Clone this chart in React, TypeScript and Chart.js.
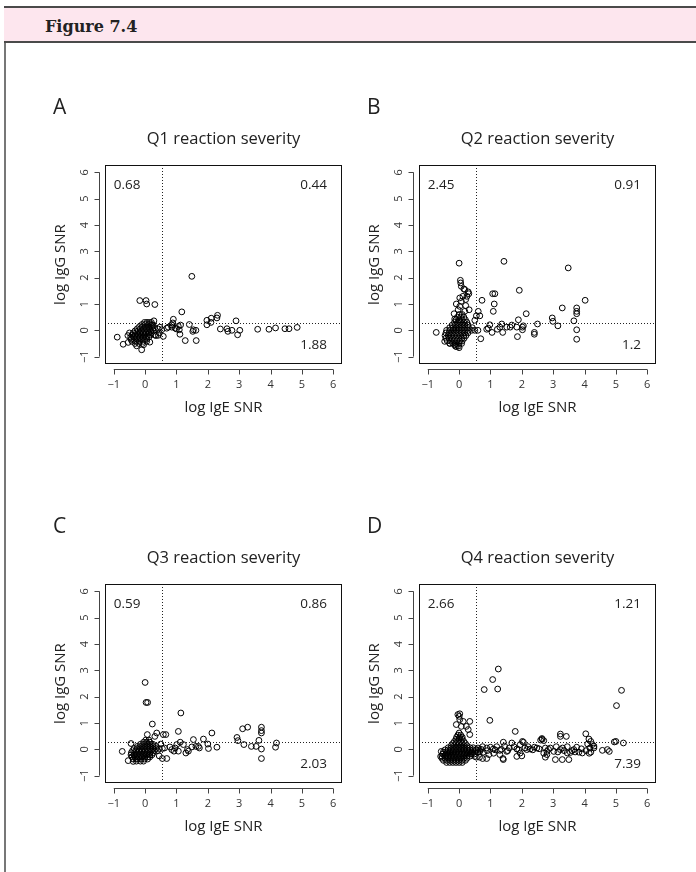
import React, { useEffect, useRef } from 'react';
import { Chart, registerables } from 'chart.js';

Chart.register(...registerables);

// ---------- axis / annotation data ----------
const axisTicks = [-1, 0, 1, 2, 3, 4, 5, 6];
const tickLabels = ['\u22121', '0', '1', '2', '3', '4', '5', '6'];
const axisMin = -1.28;
const axisMax = 6.28;
const cutIgE = 0.54;
const cutIgG = 0.27;
const xTitle = 'log IgE SNR';
const yTitle = 'log IgG SNR';
const panelLetters = ['A', 'B', 'C', 'D'];
const panelTitles = ['Q1 reaction severity', 'Q2 reaction severity', 'Q3 reaction severity', 'Q4 reaction severity'];
const quadrantTopLeft = ['0.68', '2.45', '0.59', '2.66'];
const quadrantTopRight = ['0.44', '0.91', '0.86', '1.21'];
const quadrantBottomRight = ['1.88', '1.2', '2.03', '7.39'];

// ---------- point data [log IgE SNR, log IgG SNR] ----------
const q1Points: [number, number][] = [
  [1.49, 2.05], [-0.17, 1.13], [0.03, 1.13], [0.05, 1.0], [0.31, 0.98], [1.17, 0.7],
  [0.9, 0.42], [0.88, 0.28], [0.85, 0.2], [1.41, 0.22],
  [1.97, 0.38], [1.97, 0.21], [2.11, 0.46], [2.1, 0.3], [2.31, 0.57], [2.29, 0.47], [2.9, 0.36],
  [2.4, 0.05], [2.61, 0.06], [2.64, -0.04], [2.77, 0], [2.95, -0.17], [3.02, 0], [3.59, 0.04],
  [3.95, 0.04], [4.16, 0.09], [4.46, 0.06], [4.59, 0.06], [4.85, 0.11],
  [1.0, 0.05], [1.09, 0.02], [1.11, -0.15], [1.06, 0.15], [1.13, 0.2], [0.69, 0.08], [0.74, 0.12],
  [0.85, 0.12], [0.96, 0.08], [1.52, -0.04], [1.54, 0.02], [1.62, 0], [1.28, -0.39], [1.63, -0.39],
  [0.58, -0.23], [0.42, -0.19], [0.53, 0.02], [0.47, 0.12],
  [-0.89, -0.26], [-0.7, -0.53], [-0.54, -0.46], [-0.11, -0.74], [-0.27, -0.59],
  [-0.32, -0.5], [-0.2, -0.5], [-0.08, -0.5],
  [-0.42, -0.42], [-0.3, -0.42], [-0.18, -0.42], [-0.06, -0.42], [0.05, -0.42],
  [-0.45, -0.34], [-0.35, -0.34], [-0.25, -0.34], [-0.15, -0.34], [-0.05, -0.34], [0.05, -0.34],
  [-0.46, -0.26], [-0.36, -0.26], [-0.26, -0.26], [-0.16, -0.26], [-0.06, -0.26], [0.04, -0.26], [0.12, -0.26],
  [-0.42, -0.18], [-0.32, -0.18], [-0.22, -0.18], [-0.12, -0.18], [-0.02, -0.18], [0.08, -0.18], [0.16, -0.18],
  [-0.38, -0.1], [-0.28, -0.1], [-0.18, -0.1], [-0.08, -0.1], [0.02, -0.1], [0.12, -0.1], [0.2, -0.1],
  [-0.32, -0.02], [-0.22, -0.02], [-0.12, -0.02], [-0.02, -0.02], [0.08, -0.02], [0.18, -0.02], [0.26, -0.02],
  [-0.25, 0.06], [-0.15, 0.06], [-0.05, 0.06], [0.05, 0.06], [0.15, 0.06], [0.24, 0.06],
  [-0.18, 0.14], [-0.08, 0.14], [0.02, 0.14], [0.12, 0.14], [0.22, 0.14],
  [-0.1, 0.22], [0, 0.22], [0.1, 0.22], [0.2, 0.22],
  [-0.02, 0.3], [0.06, 0.3], [0.14, 0.3],
  [0.28, 0.36], [0.35, -0.2], [0.3, -0.18], [0.42, 0.05], [0.45, -0.1], [-0.5, -0.1], [-0.55, -0.2],
  [0.15, -0.45], [-0.05, -0.55], [0.2, 0.3], [0.25, 0.2], [0.3, 0.1],
];

const q2Points: [number, number][] = [
  [0.0, 2.55], [1.43, 2.62], [3.48, 2.37], [1.92, 1.52], [4.02, 1.14], [3.29, 0.85],
  [3.75, 0.85], [3.75, 0.72], [3.75, 0.63], [3.66, 0.36], [3.75, 0.02], [3.75, -0.34],
  [1.07, 1.39], [1.14, 1.39], [1.12, 1.0], [1.09, 0.72], [0.73, 1.14], [2.14, 0.63],
  [2.97, 0.47], [2.99, 0.34], [3.15, 0.17], [2.5, 0.24],
  [1.89, 0.4], [1.84, 0.12], [2.02, 0.12], [2.02, 0.02], [2.05, 0.17], [1.86, -0.24], [2.4, -0.08],
  [2.4, -0.15], [1.63, 0.12], [1.68, 0.2], [1.36, 0.24], [1.39, -0.08], [1.3, 0.12], [1.22, 0.04],
  [1.05, -0.08], [0.98, 0.21], [0.93, 0.08], [0.88, 0.04], [1.52, 0.12],
  [0.69, -0.32], [0.61, 0.72], [0.66, 0.55], [0.55, 0.55], [0.5, 0.38], [-0.73, -0.08],
  [0.04, 1.9], [0.05, 1.8], [0.07, 1.67], [0.15, 1.57], [0.18, 1.55], [0.29, 1.46], [0.31, 1.39],
  [0.25, 1.29], [0.12, 1.29], [0.02, 1.23], [0.07, 1.1], [0.21, 1.17], [-0.09, 1.0], [0.02, 0.91],
  [0.21, 0.94], [0.32, 0.78], [0.18, 0.72], [-0.03, 0.78], [-0.16, 0.63], [-0.14, 0.43], [0.02, 0.34],
  [-0.09, -0.62], [0, -0.66], [-0.14, -0.55], [-0.3, -0.49], [-0.46, -0.42],
  [-0.12, -0.6], [-0.02, -0.6],
  [-0.3, -0.5], [-0.2, -0.5], [-0.1, -0.5], [0.0, -0.5], [0.08, -0.5],
  [-0.38, -0.4], [-0.28, -0.4], [-0.18, -0.4], [-0.08, -0.4], [0.02, -0.4], [0.1, -0.4],
  [-0.42, -0.3], [-0.32, -0.3], [-0.22, -0.3], [-0.12, -0.3], [-0.02, -0.3], [0.08, -0.3], [0.16, -0.3],
  [-0.45, -0.2], [-0.35, -0.2], [-0.25, -0.2], [-0.15, -0.2], [-0.05, -0.2], [0.05, -0.2], [0.15, -0.2], [0.22, -0.2],
  [-0.42, -0.1], [-0.32, -0.1], [-0.22, -0.1], [-0.12, -0.1], [-0.02, -0.1], [0.08, -0.1], [0.18, -0.1], [0.28, -0.1],
  [-0.4, 0.0], [-0.3, 0.0], [-0.2, 0.0], [-0.1, 0.0], [0.0, 0.0], [0.1, 0.0], [0.2, 0.0], [0.3, 0.0],
  [0.4, 0.0], [0.5, 0.0], [0.6, 0.0],
  [-0.3, 0.1], [-0.2, 0.1], [-0.1, 0.1], [0.0, 0.1], [0.1, 0.1], [0.2, 0.1], [0.3, 0.1], [0.42, 0.1],
  [-0.22, 0.2], [-0.12, 0.2], [-0.02, 0.2], [0.08, 0.2], [0.18, 0.2], [0.28, 0.2],
  [-0.15, 0.3], [-0.05, 0.3], [0.05, 0.3], [0.15, 0.3], [0.25, 0.3],
  [-0.1, 0.4], [0.0, 0.4], [0.1, 0.4], [0.2, 0.4],
  [-0.05, 0.5], [0.05, 0.5], [0.15, 0.5],
  [0.0, 0.6], [0.1, 0.6],
];

const q3Points: [number, number][] = [
  [0.0, 2.54], [0.03, 1.78], [0.08, 1.78], [1.14, 1.38], [1.06, 0.68], [0.23, 0.96],
  [0.07, 0.56], [0.31, 0.49], [0.66, 0.56], [0.58, 0.56], [0.37, 0.62], [2.13, 0.62],
  [1.86, 0.39], [1.54, 0.37], [3.11, 0.78], [3.27, 0.84], [3.71, 0.84], [3.71, 0.71], [3.71, 0.62],
  [2.93, 0.45], [2.96, 0.33], [3.15, 0.18], [3.39, 0.11], [3.54, 0.11], [3.63, 0.34], [3.71, 0.01],
  [3.71, -0.35], [4.19, 0.24], [4.16, 0.08],
  [2.29, 0.08], [2.02, 0.03], [2.0, 0.2], [1.7, 0.11], [1.62, 0.11], [1.49, 0.09], [1.35, -0.01],
  [1.3, -0.14], [1.38, -0.07], [1.22, 0.18], [1.12, 0.27], [1.01, 0.18], [0.96, 0.05], [0.85, -0.01],
  [0.79, 0.09], [0.92, -0.07], [1.06, -0.07], [1.73, 0.05], [0.69, -0.35],
  [-0.73, -0.08], [-0.54, -0.43], [-0.38, -0.46],
  [-0.28, -0.45], [-0.15, -0.45], [-0.05, -0.45],
  [-0.38, -0.37], [-0.26, -0.37], [-0.14, -0.37], [-0.02, -0.37], [0.08, -0.37],
  [-0.42, -0.29], [-0.32, -0.29], [-0.22, -0.29], [-0.12, -0.29], [-0.02, -0.29], [0.08, -0.29], [0.15, -0.29],
  [-0.45, -0.21], [-0.35, -0.21], [-0.25, -0.21], [-0.15, -0.21], [-0.05, -0.21], [0.05, -0.21], [0.15, -0.21], [0.22, -0.21],
  [-0.44, -0.13], [-0.34, -0.13], [-0.24, -0.13], [-0.14, -0.13], [-0.04, -0.13], [0.06, -0.13], [0.16, -0.13], [0.26, -0.13],
  [-0.4, -0.05], [-0.3, -0.05], [-0.2, -0.05], [-0.1, -0.05], [0.0, -0.05], [0.1, -0.05], [0.2, -0.05], [0.3, -0.05], [0.4, -0.05],
  [-0.35, 0.03], [-0.25, 0.03], [-0.15, 0.03], [-0.05, 0.03], [0.05, 0.03], [0.15, 0.03], [0.25, 0.03],
  [0.35, 0.03], [0.45, 0.03], [0.55, 0.03],
  [-0.25, 0.11], [-0.15, 0.11], [-0.05, 0.11], [0.05, 0.11], [0.15, 0.11], [0.25, 0.11], [0.35, 0.11],
  [-0.15, 0.19], [-0.05, 0.19], [0.05, 0.19], [0.15, 0.19], [0.25, 0.19],
  [-0.05, 0.27], [0.05, 0.27], [0.15, 0.27],
  [0.02, 0.35], [0.12, 0.35],
  [0.45, -0.25], [0.55, -0.35], [0.5, 0.2], [-0.45, 0.22], [0.62, 0.05],
];

const q4Points: [number, number][] = [
  [1.25, 3.05], [1.07, 2.65], [0.8, 2.27], [1.23, 2.29], [5.18, 2.24], [5.02, 1.66],
  [0.98, 1.1], [0.34, 1.06], [1.79, 0.68], [4.04, 0.59], [4.14, 0.39], [4.2, 0.3], [4.25, 0.18],
  [3.23, 0.58], [3.42, 0.49], [3.23, 0.49], [2.64, 0.41], [2.7, 0.33],
  [4.95, 0.28], [5.0, 0.3], [5.24, 0.24], [4.73, -0.01], [4.79, -0.08], [4.57, -0.04],
  [3.07, -0.39], [3.29, -0.39], [3.5, -0.39], [1.41, -0.39], [0.88, -0.35],
  [0.29, 0.75], [0.34, 0.56], [0.23, 0.87], [0.07, 0.87], [0.0, 1.25], [0.02, 1.35], [-0.04, 1.32],
  [0.02, 1.13], [-0.09, 0.94], [0.13, 1.06],
  [2.02, 0.3], [2.05, 0.27], [1.95, 0.18], [1.68, 0.24], [1.41, 0.27], [1.84, -0.27], [1.95, -0.14],
  [2.75, 0.05], [2.8, -0.08], [2.8, -0.2], [3.66, -0.01], [3.82, -0.11], [3.93, -0.14], [4.17, 0.05],
  [4.2, -0.11], [4.3, 0.05], [3.45, -0.14], [3.23, -0.01], [3.02, -0.08], [2.91, 0.05], [2.48, 0.05],
  [2.27, 0.01], [2.16, -0.01], [1.84, 0.01], [1.52, -0.08], [1.3, -0.04], [1.09, 0.01], [0.88, 0.05],
  [0.77, -0.11], [0.66, -0.08], [0.55, -0.01], [0.5, -0.27], [0.39, -0.16],
  [-0.57, -0.08], [-0.59, -0.27],
  [0.6, 0.05], [0.7, 0.0], [0.75, 0.1], [0.9, -0.05], [1.0, 0.08], [1.15, -0.02], [1.2, 0.1],
  [1.35, 0.0], [1.45, 0.12], [1.55, -0.05], [1.6, 0.05], [1.75, 0.1], [1.9, -0.02], [2.1, 0.05],
  [2.2, 0.1], [2.35, -0.02], [2.4, 0.08], [2.55, 0.02], [2.6, 0.35], [2.65, 0.38], [2.7, -0.15],
  [2.85, 0.0], [3.1, 0.1], [3.15, -0.1], [3.3, 0.05], [3.35, -0.05], [3.45, 0.1], [3.55, -0.12],
  [3.7, -0.1], [3.75, 0.08], [3.9, 0.02], [4.05, -0.05], [4.1, 0.2], [4.15, -0.15], [4.3, 0.12],
  [0.65, -0.3], [0.75, -0.35], [0.55, -0.3], [0.95, -0.2], [1.1, -0.15], [1.3, -0.2], [1.4, -0.35],
  [2.0, -0.25], [2.75, -0.3], [3.6, -0.05],
  [-0.4, -0.5], [-0.3, -0.5], [-0.2, -0.5], [-0.1, -0.5], [0.0, -0.5], [0.1, -0.5],
  [-0.5, -0.42], [-0.4, -0.42], [-0.3, -0.42], [-0.2, -0.42], [-0.1, -0.42], [0.0, -0.42], [0.1, -0.42], [0.2, -0.42],
  [-0.55, -0.34], [-0.45, -0.34], [-0.35, -0.34], [-0.25, -0.34], [-0.15, -0.34], [-0.05, -0.34], [0.05, -0.34],
  [0.15, -0.34], [0.25, -0.34],
  [-0.55, -0.26], [-0.45, -0.26], [-0.35, -0.26], [-0.25, -0.26], [-0.15, -0.26], [-0.05, -0.26], [0.05, -0.26],
  [0.15, -0.26], [0.25, -0.26], [0.35, -0.26],
  [-0.52, -0.18], [-0.42, -0.18], [-0.32, -0.18], [-0.22, -0.18], [-0.12, -0.18], [-0.02, -0.18], [0.08, -0.18],
  [0.18, -0.18], [0.28, -0.18], [0.38, -0.18], [0.48, -0.18],
  [-0.5, -0.1], [-0.4, -0.1], [-0.3, -0.1], [-0.2, -0.1], [-0.1, -0.1], [0.0, -0.1], [0.1, -0.1], [0.2, -0.1],
  [0.3, -0.1], [0.4, -0.1], [0.5, -0.1], [0.6, -0.1],
  [-0.45, -0.02], [-0.35, -0.02], [-0.25, -0.02], [-0.15, -0.02], [-0.05, -0.02], [0.05, -0.02], [0.15, -0.02],
  [0.25, -0.02], [0.35, -0.02], [0.45, -0.02], [0.55, -0.02], [0.65, -0.02],
  [-0.35, 0.06], [-0.25, 0.06], [-0.15, 0.06], [-0.05, 0.06], [0.05, 0.06], [0.15, 0.06], [0.25, 0.06],
  [0.35, 0.06], [0.45, 0.06],
  [-0.25, 0.14], [-0.15, 0.14], [-0.05, 0.14], [0.05, 0.14], [0.15, 0.14], [0.25, 0.14],
  [-0.2, 0.22], [-0.1, 0.22], [0.0, 0.22], [0.1, 0.22], [0.2, 0.22],
  [-0.15, 0.3], [-0.05, 0.3], [0.05, 0.3], [0.15, 0.3],
  [-0.1, 0.38], [0.0, 0.38], [0.1, 0.38],
  [-0.08, 0.46], [0.02, 0.46], [0.1, 0.46],
  [-0.04, 0.54], [0.05, 0.54],
  [0.0, 0.62],
];

const allPoints = [q1Points, q2Points, q3Points, q4Points];

// ---------- layout ----------
const SANS = '"Open Sans", "Liberation Sans", sans-serif';
const CANVAS_W = 310;
const CANVAS_H = 340;
const panelPos = [
  { left: 40, top: 90 },
  { left: 354, top: 90 },
  { left: 40, top: 509 },
  { left: 354, top: 509 },
];

const rStylePlugin = {
  id: 'rStyle',
  afterDatasetsDraw(chart: any, _args: any, opts: any) {
    const { ctx, chartArea: a } = chart;
    const xs = chart.scales.x;
    const ys = chart.scales.y;
    const i = opts.index as number;
    ctx.save();

    // dotted cut-off lines
    ctx.strokeStyle = '#222';
    ctx.lineWidth = 1;
    ctx.setLineDash([1, 2]);
    const vx = Math.round(xs.getPixelForValue(cutIgE)) + 0.5;
    ctx.beginPath();
    ctx.moveTo(vx, a.top);
    ctx.lineTo(vx, a.bottom);
    ctx.stroke();
    const hy = Math.round(ys.getPixelForValue(cutIgG)) + 0.5;
    ctx.beginPath();
    ctx.moveTo(a.left, hy);
    ctx.lineTo(a.right, hy);
    ctx.stroke();
    ctx.setLineDash([]);

    // box
    ctx.strokeStyle = '#111';
    ctx.strokeRect(Math.round(a.left) + 0.5, Math.round(a.top) + 0.5, Math.round(a.width) - 1, Math.round(a.height) - 1);

    // x axis
    ctx.strokeStyle = '#444';
    const axY = Math.round(a.bottom) + 5.5;
    ctx.beginPath();
    ctx.moveTo(xs.getPixelForValue(axisTicks[0]), axY);
    ctx.lineTo(xs.getPixelForValue(axisTicks[axisTicks.length - 1]), axY);
    axisTicks.forEach((t) => {
      const px = Math.round(xs.getPixelForValue(t)) + 0.5;
      ctx.moveTo(px, axY);
      ctx.lineTo(px, axY + 5);
    });
    ctx.stroke();

    // y axis
    const axX = Math.round(a.left) - 5.5;
    ctx.beginPath();
    ctx.moveTo(axX, ys.getPixelForValue(axisTicks[0]));
    ctx.lineTo(axX, ys.getPixelForValue(axisTicks[axisTicks.length - 1]));
    axisTicks.forEach((t) => {
      const py = Math.round(ys.getPixelForValue(t)) + 0.5;
      ctx.moveTo(axX, py);
      ctx.lineTo(axX - 5, py);
    });
    ctx.stroke();

    // tick labels
    ctx.fillStyle = '#333';
    ctx.font = `11px ${SANS}`;
    ctx.textAlign = 'center';
    ctx.textBaseline = 'middle';
    axisTicks.forEach((t, k) => {
      ctx.fillText(tickLabels[k], xs.getPixelForValue(t), a.bottom + 21);
    });
    axisTicks.forEach((t, k) => {
      ctx.save();
      ctx.translate(a.left - 20, ys.getPixelForValue(t));
      ctx.rotate(-Math.PI / 2);
      ctx.fillText(tickLabels[k], 0, 0);
      ctx.restore();
    });

    // axis titles
    ctx.fillStyle = '#222';
    ctx.font = `15px ${SANS}`;
    ctx.textBaseline = 'alphabetic';
    ctx.fillText(xTitle, (a.left + a.right) / 2, a.bottom + 48);
    ctx.save();
    ctx.translate(a.left - 40, (a.top + a.bottom) / 2);
    ctx.rotate(-Math.PI / 2);
    ctx.fillText(yTitle, 0, 0);
    ctx.restore();

    // main title
    ctx.font = `16.5px ${SANS}`;
    ctx.fillText(panelTitles[i], (a.left + a.right) / 2, a.top - 21);

    // panel letter
    ctx.font = `21px ${SANS}`;
    ctx.textAlign = 'left';
    ctx.fillText(panelLetters[i], a.left - 52, a.top - 51);

    // quadrant values
    ctx.font = `13.5px ${SANS}`;
    ctx.textBaseline = 'middle';
    ctx.textAlign = 'left';
    ctx.fillText(quadrantTopLeft[i], xs.getPixelForValue(-1.0), ys.getPixelForValue(5.5));
    ctx.textAlign = 'right';
    ctx.fillText(quadrantTopRight[i], xs.getPixelForValue(5.8), ys.getPixelForValue(5.5));
    ctx.fillText(quadrantBottomRight[i], xs.getPixelForValue(5.8), ys.getPixelForValue(-0.55));

    ctx.restore();
  },
};

function Panel({ index }: { index: number }) {
  const ref = useRef<HTMLCanvasElement | null>(null);
  useEffect(() => {
    if (!ref.current) return;
    const pts = allPoints[index];
    const chart = new Chart(ref.current, {
      type: 'scatter',
      data: {
        datasets: [
          {
            data: pts.map(([x, y]) => ({ x, y })),
            pointRadius: 2.9,
            pointHoverRadius: 2.9,
            pointBorderWidth: 1,
            pointBackgroundColor: 'rgba(0,0,0,0)',
            pointBorderColor: '#000',
            showLine: false,
          },
        ],
      },
      options: {
        responsive: false,
        animation: false,
        events: [],
        layout: { padding: { left: 65, top: 75, right: 8, bottom: 66 } },
        plugins: {
          legend: { display: false },
          tooltip: { enabled: false },
          title: { display: false },
          rStyle: { index },
        } as any,
        scales: {
          x: { type: 'linear', min: axisMin, max: axisMax, display: false },
          y: { type: 'linear', min: axisMin, max: axisMax, display: false },
        },
      },
      plugins: [rStylePlugin],
    });
    return () => chart.destroy();
  }, [index]);
  const p = panelPos[index];
  return (
    <canvas
      ref={ref}
      width={CANVAS_W}
      height={CANVAS_H}
      style={{ position: 'absolute', left: p.left, top: p.top, width: CANVAS_W, height: CANVAS_H }}
    />
  );
}

export default function App() {
  return (
    <div style={{ position: 'absolute', left: 0, top: 0, width: 696, height: 872, background: '#fff', overflow: 'hidden' }}>
      <div
        style={{
          position: 'absolute',
          left: 4,
          top: 6,
          width: 2,
          height: 866,
          background: '#777',
        }}
      />
      <div
        style={{
          position: 'absolute',
          left: 4,
          top: 6,
          width: 692,
          height: 33,
          background: '#fde6ee',
          borderTop: '2px solid #4a4a4a',
          borderBottom: '2px solid #4a4a4a',
        }}
      />
      <div
        style={{
          position: 'absolute',
          left: 45,
          top: 19,
          fontFamily: '"DejaVu Serif", serif',
          fontWeight: 'bold',
          fontSize: 16,
          lineHeight: '16px',
          color: '#222',
          whiteSpace: 'nowrap',
        }}
      >
        Figure 7.4
      </div>
      {[0, 1, 2, 3].map((i) => (
        <Panel key={i} index={i} />
      ))}
    </div>
  );
}
